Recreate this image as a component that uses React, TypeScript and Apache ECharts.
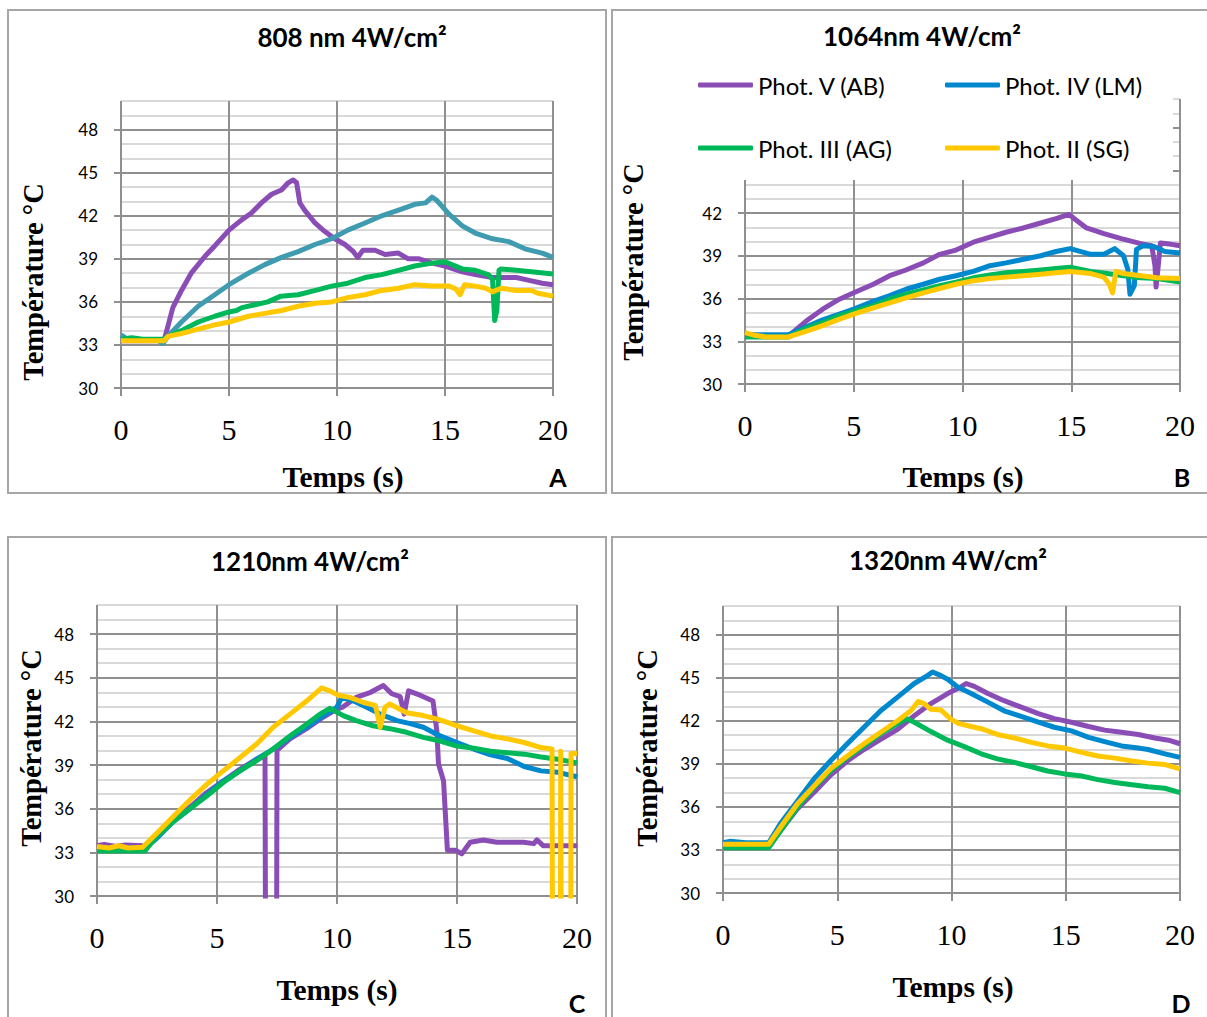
import React, { useEffect, useRef } from "react";
import * as echarts from "echarts";

// ---- data: [time (s), temperature (°C)] ----
const seriesNames = ["Phot. V (AB)", "Phot. IV (LM)", "Phot. III (AG)", "Phot. II (SG)"];
const panelTitles = ["808 nm 4W/cm²", "1064nm 4W/cm²", "1210nm 4W/cm²", "1320nm 4W/cm²"];
const panelLetters = ["A", "B", "C", "D"];
const xTicks = [0, 5, 10, 15, 20];
const yTicks = [30, 33, 36, 39, 42, 45, 48];

const aV = [[0,33.3],[0.5,33.3],[1,33.3],[1.5,33.3],[2,33.35],[2.17,34.3],[2.4,35.6],[2.8,36.8],[3.25,38.0],[3.9,39.2],[4.34,39.9],[5,41.0],[5.57,41.7],[6.04,42.2],[6.5,42.9],[6.97,43.5],[7.43,43.8],[7.74,44.3],[7.97,44.5],[8.13,44.3],[8.28,42.9],[8.5,42.4],[8.98,41.5],[9.44,40.9],[9.9,40.4],[10.37,40.0],[10.76,39.5],[10.96,39.1],[11.2,39.6],[11.76,39.6],[12.23,39.3],[12.84,39.4],[13.3,39.0],[13.8,39.0],[14.4,38.7],[15,38.5],[15.8,38.1],[16.4,37.9],[17.2,37.7],[18.3,37.7],[18.9,37.5],[19.5,37.3],[20,37.2]];
const aIV = [[0,33.7],[0.3,33.4],[0.7,33.4],[1.2,33.35],[1.7,33.3],[1.94,33.1],[2.17,33.6],[2.8,34.6],[3.57,35.7],[4.34,36.5],[5,37.2],[5.9,38.0],[6.66,38.6],[7.43,39.1],[8.2,39.5],[8.98,40.0],[9.75,40.4],[10.5,41.0],[11.3,41.5],[12.07,42.0],[12.85,42.4],[13.6,42.8],[14.1,42.9],[14.4,43.3],[14.6,43.1],[15.2,42.1],[15.8,41.3],[16.4,40.8],[17.2,40.4],[17.95,40.2],[18.7,39.7],[19.5,39.4],[20,39.1]];
const aIII = [[0,33.4],[0.5,33.5],[1,33.4],[1.5,33.4],[2,33.4],[2.17,33.6],[2.8,34.0],[3.57,34.6],[4.34,35.0],[5,35.3],[5.35,35.4],[5.6,35.6],[6.2,35.8],[6.8,36.0],[7.4,36.4],[8.2,36.5],[9,36.8],[9.75,37.1],[10.5,37.3],[11.3,37.7],[12.07,37.9],[12.85,38.2],[13.6,38.5],[14.4,38.7],[15,38.8],[15.8,38.3],[16.4,38.2],[17,37.9],[17.2,37.6],[17.3,34.7],[17.4,35.4],[17.5,38.2],[17.6,38.3],[18.3,38.2],[19,38.1],[20,37.95]];
const aII = [[0,33.3],[0.5,33.3],[1,33.3],[1.5,33.3],[2,33.3],[2.17,33.6],[2.8,33.8],[3.57,34.1],[4.34,34.4],[5,34.6],[5.9,35.0],[6.66,35.2],[7.43,35.4],[8.2,35.7],[9,35.9],[9.75,36.0],[10.5,36.3],[11.3,36.5],[12.07,36.8],[12.85,36.95],[13.6,37.2],[14.4,37.1],[15.2,37.1],[15.5,36.9],[15.7,36.5],[15.9,37.2],[16.4,37.1],[16.9,36.95],[17.2,36.7],[17.6,36.95],[18.3,36.8],[19,36.8],[19.3,36.6],[20,36.4]];

const bV = [[0,33.4],[1,33.4],[2,33.4],[2.18,33.6],[2.8,34.4],[3.57,35.25],[4.34,35.95],[5,36.4],[5.9,37.0],[6.65,37.6],[7.4,38.0],[8.2,38.5],[8.95,39.1],[9.7,39.4],[10.5,39.95],[11.26,40.3],[12,40.65],[12.8,40.95],[13.6,41.3],[14.3,41.6],[14.9,41.9],[15.1,41.65],[15.7,40.95],[16.5,40.55],[17.3,40.2],[18.2,39.85],[18.7,39.7],[18.85,38.3],[18.9,36.8],[19.0,38.3],[19.1,39.9],[19.6,39.8],[20,39.7]];
const bIV = [[0,33.45],[1,33.45],[2,33.45],[2.8,34.0],[3.57,34.5],[4.34,34.9],[5,35.25],[5.9,35.8],[6.65,36.2],[7.4,36.65],[8.2,37.0],[8.95,37.35],[9.7,37.6],[10.5,37.9],[11.26,38.3],[12,38.5],[12.8,38.75],[13.6,39.0],[14.3,39.3],[14.95,39.5],[15.9,39.1],[16.5,39.1],[17,39.5],[17.4,39.0],[17.6,38.05],[17.7,36.3],[17.9,36.9],[18,39.45],[18.3,39.7],[18.8,39.65],[19.3,39.3],[20,39.2]];
const bIII = [[0,33.3],[1,33.3],[2,33.3],[2.8,33.9],[3.57,34.3],[4.34,34.8],[5,35.1],[5.9,35.5],[6.65,35.95],[7.4,36.3],[8.2,36.6],[8.95,36.9],[9.7,37.15],[10.5,37.45],[11.26,37.65],[12,37.8],[12.8,37.9],[13.6,38.0],[14.3,38.1],[14.95,38.2],[15.9,37.9],[16.65,37.75],[17.4,37.6],[18.2,37.45],[18.95,37.4],[20,37.15]];
const bII = [[0,33.6],[0.5,33.4],[1,33.3],[2,33.3],[2.8,33.7],[3.57,34.1],[4.34,34.55],[5,34.9],[5.9,35.35],[6.65,35.7],[7.4,36.05],[8.2,36.4],[8.95,36.7],[9.7,37.0],[10.5,37.25],[11.26,37.4],[12,37.5],[12.8,37.6],[13.6,37.7],[14.3,37.8],[14.95,37.9],[15.9,37.75],[16.5,37.5],[16.75,37.0],[16.9,36.4],[17.05,37.9],[17.4,37.75],[18.2,37.6],[18.95,37.45],[20,37.4]];

const cV = [[0,33.45],[0.3,33.55],[0.8,33.4],[1.2,33.5],[1.9,33.45],[2.06,33.3],[2.5,34.2],[3.2,35.35],[3.9,36.15],[4.56,37.1],[5.26,37.9],[5.95,38.7],[6.65,39.4],[7.0,39.6],[7.07,0],[7.45,0],[7.5,40.0],[8.04,40.8],[8.73,41.5],[9.43,42.3],[10.0,42.85],[10.26,43.0],[10.8,43.65],[11.4,44.0],[11.93,44.47],[12.28,43.9],[12.63,43.7],[12.8,42.5],[12.98,44.1],[13.46,43.8],[14.0,43.4],[14.16,41.35],[14.23,39.05],[14.44,37.9],[14.6,33.15],[14.92,33.15],[15.2,32.9],[15.55,33.7],[16.1,33.85],[16.66,33.7],[17.77,33.7],[18.2,33.6],[18.33,33.85],[18.6,33.45],[20,33.45]];
const cIV = [[0,33.3],[1,33.3],[2.0,33.3],[2.48,33.95],[3.17,35.1],[3.87,36.0],[4.56,36.95],[5.26,37.9],[5.95,38.6],[6.65,39.4],[7.34,40.1],[8.04,40.9],[8.73,41.6],[9.43,42.4],[9.99,42.97],[10.2,43.65],[10.7,43.4],[11.24,42.97],[11.8,42.5],[12.5,42.05],[13.05,41.85],[13.6,41.6],[14.3,41.0],[15,40.55],[15.7,40.1],[16.4,39.7],[17.1,39.45],[17.8,38.9],[18.5,38.6],[19.2,38.5],[20,38.2]];
const cIII = [[0,33.1],[1,33.1],[2,33.1],[2.48,34.1],[3.17,35.1],[3.87,36.0],[4.56,36.85],[5.26,37.8],[5.95,38.6],[6.65,39.3],[7.34,40.1],[8.04,41.0],[8.73,41.8],[9.29,42.5],[9.7,42.9],[10.26,42.4],[10.8,42.05],[11.5,41.7],[12.2,41.5],[12.9,41.25],[13.6,40.9],[14.3,40.65],[15,40.3],[15.7,40.15],[16.4,39.95],[17.1,39.85],[17.8,39.75],[18.5,39.55],[19.2,39.4],[20,39.15]];
const cII = [[0,33.4],[0.5,33.3],[0.9,33.45],[1.3,33.3],[1.9,33.35],[2.48,34.3],[3.17,35.45],[3.87,36.6],[4.56,37.65],[5.26,38.6],[5.95,39.5],[6.65,40.45],[7.34,41.6],[8.04,42.5],[8.73,43.4],[9.36,44.3],[9.7,44.1],[10.05,43.8],[10.54,43.65],[11.1,43.3],[11.6,43.1],[11.8,41.6],[12.0,42.97],[12.2,43.2],[12.9,42.6],[13.6,42.4],[14.3,42.1],[15,41.7],[15.7,41.35],[16.4,41.0],[17.1,40.8],[17.8,40.55],[18.5,40.2],[18.96,40.1],[19.01,0],[19.29,0],[19.32,39.95],[19.4,0],[19.72,0],[19.75,39.8],[20,39.8]];

const dV = [[0,33.4],[1,33.4],[2.08,33.4],[2.5,34.3],[3.25,35.85],[3.98,37.0],[4.7,38.2],[5.44,39.2],[6.17,40.0],[6.9,40.7],[7.64,41.4],[8.37,42.35],[9.1,43.2],[9.83,43.9],[10.4,44.35],[10.64,44.6],[11,44.4],[11.59,43.9],[12.3,43.4],[13.05,42.95],[13.8,42.5],[14.5,42.15],[15.25,41.9],[16,41.6],[16.7,41.35],[17.44,41.2],[18.17,41.05],[18.9,40.8],[19.5,40.65],[20,40.4]];
const dIV = [[0,33.5],[0.3,33.6],[1,33.5],[2,33.5],[2.5,34.8],[3.25,36.4],[3.98,37.95],[4.7,39.2],[5.44,40.4],[6.17,41.55],[6.9,42.7],[7.64,43.65],[8.37,44.6],[8.95,45.15],[9.17,45.4],[9.54,45.15],[9.83,44.9],[10.27,44.35],[10.86,43.9],[11.59,43.3],[12.3,42.7],[13.05,42.3],[13.8,41.9],[14.5,41.55],[15.25,41.3],[16,40.85],[16.7,40.55],[17.44,40.25],[18.17,40.1],[18.6,40.0],[19.34,39.7],[20,39.45]];
const dIII = [[0,33.15],[1,33.15],[2,33.15],[2.5,34.3],[3.25,35.95],[3.98,37.35],[4.7,38.5],[5.44,39.45],[6.17,40.25],[6.9,41.1],[7.64,41.8],[8.05,42.15],[8.37,41.9],[9.1,41.25],[9.83,40.65],[10.56,40.2],[11.3,39.7],[12,39.35],[12.75,39.1],[13.5,38.8],[14.2,38.5],[14.95,38.3],[15.7,38.15],[16.4,37.9],[17.15,37.7],[17.9,37.55],[18.6,37.4],[19.34,37.3],[20,37.0]];
const dII = [[0,33.4],[1,33.4],[2,33.4],[2.5,34.55],[3.25,36.2],[3.98,37.45],[4.7,38.65],[5.44,39.55],[6.17,40.4],[6.9,41.2],[7.64,42.0],[8.22,42.7],[8.54,43.35],[8.8,43.2],[9.1,42.8],[9.54,42.75],[9.98,42.1],[10.34,41.8],[10.86,41.6],[11.3,41.45],[12,41.05],[12.75,40.8],[13.5,40.5],[14.2,40.25],[14.95,40.1],[15.7,39.8],[16.4,39.55],[17.15,39.4],[17.9,39.2],[18.6,39.05],[19.34,38.95],[20,38.65]];

// ---- styling ----
const PURPLE = "#8A4DB5";
const BLUE = "#0088CE";
const TEAL = "#3F9BB0";
const GREEN = "#00B85A";
const YELLOW = "#FFC800";
const MAJOR = "#8f8f8f";
const MINOR = "#d9d9d9";

const panels = [
  { data: [aV, aIV, aIII, aII], colors: [PURPLE, TEAL, GREEN, YELLOW],
    grid: { left: 121, top: 101, width: 432, height: 287 },
    border: [8, 10, 598, 483], title: [352, 37], yTitle: [33, 282], xTitle: [343, 477], letter: [558, 477] },
  { data: [bV, bIV, bIII, bII], colors: [PURPLE, BLUE, GREEN, YELLOW],
    grid: { left: 745, top: 99, width: 435, height: 285 },
    border: [612, 10, 620, 483], title: [922, 36], yTitle: [633, 262], xTitle: [963, 477], letter: [1182, 477] },
  { data: [cV, cIV, cIII, cII], colors: [PURPLE, BLUE, GREEN, YELLOW],
    grid: { left: 97, top: 605, width: 480, height: 291 },
    border: [8, 537, 598, 500], title: [310, 561], yTitle: [31, 748], xTitle: [337, 990], letter: [577, 1003] },
  { data: [dV, dIV, dIII, dII], colors: [PURPLE, BLUE, GREEN, YELLOW],
    grid: { left: 723, top: 606, width: 457, height: 287 },
    border: [612, 537, 620, 500], title: [948, 560], yTitle: [647, 748], xTitle: [953, 987], letter: [1181, 1003] },
];

// legend item placement (panel B)
const legendSpots = [[698, 73], [945, 73], [698, 136], [945, 136]];
const legendColors = [PURPLE, BLUE, GREEN, YELLOW];

function buildOption() {
  const grid: any[] = [];
  const xAxis: any[] = [];
  const yAxis: any[] = [];
  const series: any[] = [];
  const graphic: any[] = [];

  panels.forEach((p, i) => {
    grid.push({ ...p.grid, containLabel: false });
    xAxis.push({
      type: "value", gridIndex: i, min: 0, max: 20, interval: 5, position: "bottom",
      axisLine: { show: true, onZero: false, lineStyle: { color: MAJOR, width: 2 } },
      axisTick: { show: true, length: 8, lineStyle: { color: MAJOR, width: 2 } },
      axisLabel: { margin: 26, fontFamily: "Liberation Serif", fontSize: 30, color: "#000",
        customValues: xTicks },
      splitLine: { show: true, lineStyle: { color: MAJOR, width: 2 } },
    });
    // minor grid lines (every 1 °C)
    yAxis.push({
      type: "value", gridIndex: i, min: 30, max: 50, interval: 1, position: "left",
      axisLine: { show: false }, axisTick: { show: false }, axisLabel: { show: false },
      splitLine: { show: true, lineStyle: { color: MINOR, width: 2 } },
    });
    // major grid lines, ticks and labels (every 3 °C)
    yAxis.push({
      type: "value", gridIndex: i, min: 30, max: 50, interval: 3, position: "left",
      axisLine: { show: false },
      axisTick: { show: true, length: 7, customValues: yTicks, lineStyle: { color: MAJOR, width: 2 } },
      axisLabel: { show: true, customValues: yTicks, margin: 23, fontFamily: "Lato", fontSize: 17, color: "#000" },
      splitLine: { show: true, lineStyle: { color: MAJOR, width: 2 } },
    });
    p.data.forEach((d, k) => {
      series.push({
        type: "line", name: seriesNames[k], xAxisIndex: i, yAxisIndex: 2 * i,
        data: d, showSymbol: false, symbol: "none", clip: true,
        lineStyle: { color: p.colors[k], width: 5, join: "round" },
        itemStyle: { color: p.colors[k] },
        z: 3 + k,
      });
    });
    graphic.push({
      type: "rect", z: 1, shape: { x: p.border[0], y: p.border[1], width: p.border[2], height: p.border[3] },
      style: { fill: "none", stroke: "#a6a6a6", lineWidth: 2 },
    });
    graphic.push({
      type: "text", x: p.title[0], y: p.title[1], z: 20,
      style: { text: panelTitles[i], fontFamily: "Lato", fontWeight: "bold", fontSize: 26, fill: "#000",
        align: "center", verticalAlign: "middle" },
    });
    graphic.push({
      type: "text", x: p.yTitle[0], y: p.yTitle[1], rotation: Math.PI / 2, z: 20,
      style: { text: "Température °C", fontFamily: "Liberation Serif", fontWeight: "bold", fontSize: 28.5, fill: "#000",
        align: "center", verticalAlign: "middle" },
    });
    graphic.push({
      type: "text", x: p.xTitle[0], y: p.xTitle[1], z: 20,
      style: { text: "Temps (s)", fontFamily: "Liberation Serif", fontWeight: "bold", fontSize: 29.5, fill: "#000",
        align: "center", verticalAlign: "middle" },
    });
    graphic.push({
      type: "text", x: p.letter[0], y: p.letter[1], z: 20,
      style: { text: panelLetters[i], fontFamily: "Lato", fontWeight: "bold", fontSize: 25, fill: "#000",
        align: "center", verticalAlign: "middle" },
    });
  });

  // white legend background in panel B
  graphic.push({
    type: "rect", z: 50, shape: { x: 655, y: 55, width: 518, height: 125 },
    style: { fill: "#ffffff" },
  });

  const legend = seriesNames.map((name, k) => ({
    left: legendSpots[k][0], top: legendSpots[k][1], orient: "horizontal", padding: 0,
    itemWidth: 55, itemHeight: 5, icon: "roundRect", z: 60, selectedMode: false,
    textStyle: { fontFamily: "Lato", fontSize: 24, color: "#000", padding: [0, 0, 0, 0] },
    data: [{ name, itemStyle: { color: legendColors[k] } }],
  }));

  return {
    animation: false,
    backgroundColor: "#ffffff",
    grid, xAxis, yAxis, series, graphic, legend,
  };
}

export default function App() {
  const ref = useRef<HTMLDivElement>(null);
  useEffect(() => {
    document.body.style.margin = "0";
    if (!ref.current) return;
    const chart = echarts.init(ref.current, null, { renderer: "svg" });
    chart.setOption(buildOption() as any);
    return () => chart.dispose();
  }, []);
  return <div ref={ref} style={{ width: 1207, height: 1017 }} />;
}
